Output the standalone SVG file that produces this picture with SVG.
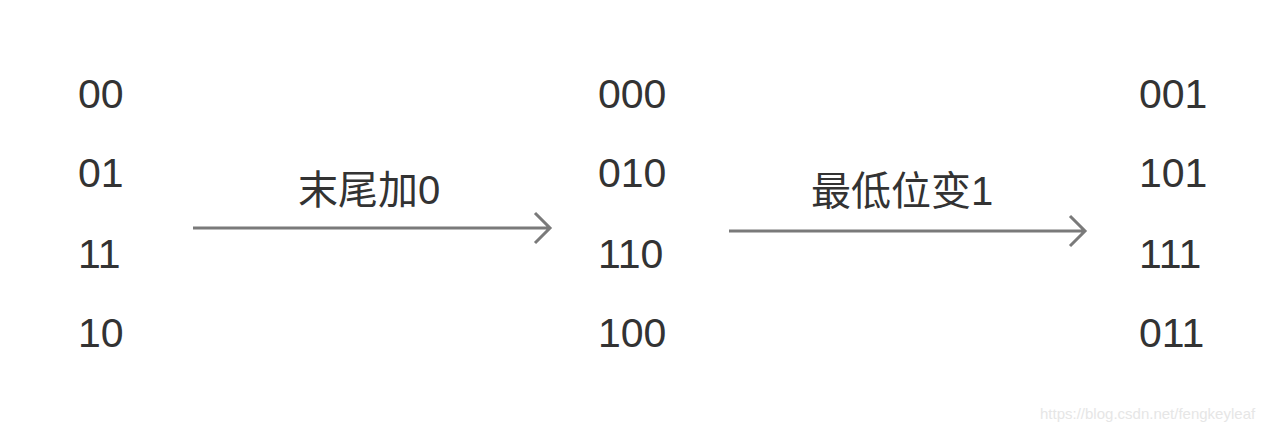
<svg xmlns="http://www.w3.org/2000/svg" width="1279" height="431" viewBox="0 0 1279 431">
<style>
.t{font-family:"Liberation Sans","Noto Sans CJK SC",sans-serif;font-size:41px;fill:#333}
.l{font-family:"Liberation Sans","Noto Sans CJK SC",sans-serif;font-size:40px;fill:#333}
.c{stroke:#7a7a7a;stroke-width:3;fill:none}
</style>
<rect width="1279" height="431" fill="#fff"/>
<g id="col1" class="t"><text x="78" y="108">00</text><text x="78" y="187">01</text><text x="78" y="268">11</text><text x="78" y="347">10</text></g>
<g id="col2" class="t"><text x="598" y="108">000</text><text x="598" y="187">010</text><text x="598" y="268">110</text><text x="598" y="347">100</text></g>
<g id="col3" class="t"><text x="1139" y="108">001</text><text x="1139" y="187">101</text><text x="1139" y="268">111</text><text x="1139" y="347">011</text></g>
<g id="connectors">
<path class="c" d="M193 228H550M535 213L550 228L535 243"/>
<path class="c" d="M729 231H1085M1070 216L1085 231L1070 246"/>
<text class="l" x="298" y="204">末尾加0</text>
<text class="l" x="811" y="205">最低位变1</text>
</g>
<text x="1040" y="419" font-family="Liberation Sans,sans-serif" font-size="15" fill="#e6e6e6">https://blog.csdn.net/fengkeyleaf</text>
</svg>
